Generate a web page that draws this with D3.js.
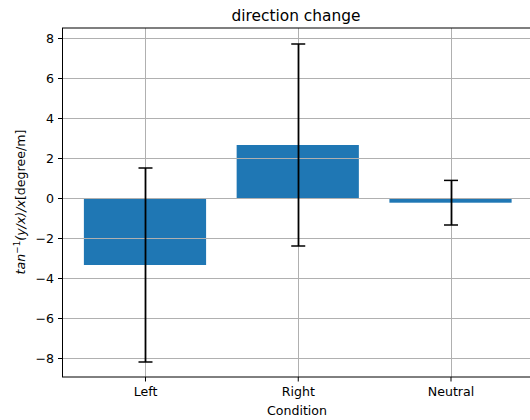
<!DOCTYPE html>
<html>
<head>
<meta charset="utf-8">
<script src="https://cdn.jsdelivr.net/npm/d3@7"></script>
<style>
  body { margin: 0; background: #fff; }
  svg { display: block; font-family: "DejaVu Sans", sans-serif; }
</style>
</head>
<body>
<div id="chart"></div>
<script>
// data
const conditions = ["Left", "Right", "Neutral"];
const means = [-3.35, 2.65, -0.235];
const errors = [4.85, 5.05, 1.115];
const yTicks = [-8, -6, -4, -2, 0, 2, 4, 6, 8];

const W = 530, H = 420;
const plotLeft = 62.5, plotTop = 28, plotBottom = 377;
const plotRight = 533;
const fs = "12.6px";

const svg = d3.select("#chart").append("svg")
    .attr("width", W)
    .attr("height", H);

const xScale = d3.scaleLinear()
    .domain([-0.54, 2.54])
    .range([plotLeft, plotRight]);

const yScale = d3.scaleLinear()
    .domain([-8.95, 8.5])
    .range([plotBottom, plotTop]);

const barW = xScale(0.4) - xScale(-0.4);

// bars
svg.append("g").selectAll("rect")
    .data(means)
    .enter()
    .append("rect")
    .attr("x", (d, i) => xScale(i) - barW / 2)
    .attr("y", d => yScale(Math.max(0, d)))
    .attr("width", barW)
    .attr("height", d => Math.abs(yScale(d) - yScale(0)))
    .style("fill", "#1f77b4");

// grid (above bars, below error bars like matplotlib)
const grid = svg.append("g");
grid.selectAll(".hg")
    .data(yTicks)
    .enter()
    .append("line")
    .attr("x1", plotLeft).attr("x2", plotRight)
    .attr("y1", d => Math.round(yScale(d)) + 0.5)
    .attr("y2", d => Math.round(yScale(d)) + 0.5)
    .style("stroke", "#b0b0b0")
    .style("stroke-width", 1);
grid.selectAll(".vg")
    .data(conditions)
    .enter()
    .append("line")
    .attr("x1", (d, i) => Math.round(xScale(i)) + 0.5)
    .attr("x2", (d, i) => Math.round(xScale(i)) + 0.5)
    .attr("y1", plotTop).attr("y2", plotBottom)
    .style("stroke", "#b0b0b0")
    .style("stroke-width", 1);

// error bars
const eb = svg.append("g").selectAll("g")
    .data(means)
    .enter()
    .append("g");
eb.append("line")
    .attr("x1", (d, i) => Math.round(xScale(i)) + 0.5)
    .attr("x2", (d, i) => Math.round(xScale(i)) + 0.5)
    .attr("y1", (d, i) => yScale(d + errors[i]))
    .attr("y2", (d, i) => yScale(d - errors[i]))
    .style("stroke", "#000")
    .style("stroke-width", 1.8);
[1, -1].forEach(s => {
    eb.append("line")
        .attr("x1", (d, i) => xScale(i) - 6.5)
        .attr("x2", (d, i) => xScale(i) + 7.5)
        .attr("y1", (d, i) => yScale(d + s * errors[i]))
        .attr("y2", (d, i) => yScale(d + s * errors[i]))
        .style("stroke", "#000")
        .style("stroke-width", 1.5);
});

// axes
const yAxis = d3.axisLeft(yScale)
    .tickValues(yTicks)
    .tickSize(4.5)
    .tickPadding(4)
    .tickFormat(d => d < 0 ? "\u2212" + Math.abs(d) : d);
svg.append("g")
    .attr("transform", `translate(${plotLeft}, 0)`)
    .call(yAxis)
    .call(g => g.select(".domain").remove())
    .call(g => g.selectAll("text").style("font-size", fs).style("fill", "#000").style("font-family", "DejaVu Sans"))
    .call(g => g.selectAll("line").style("stroke", "#000"));

const xAxis = d3.axisBottom(xScale)
    .tickValues([0, 1, 2])
    .tickSize(4.5)
    .tickPadding(6)
    .tickFormat(i => conditions[i]);
svg.append("g")
    .attr("transform", `translate(0, ${plotBottom})`)
    .call(xAxis)
    .call(g => g.select(".domain").remove())
    .call(g => g.selectAll("text").style("font-size", fs).style("fill", "#000").style("font-family", "DejaVu Sans"))
    .call(g => g.selectAll("line").style("stroke", "#000"));

// spines
svg.append("rect")
    .attr("x", plotLeft).attr("y", plotTop)
    .attr("width", plotRight - plotLeft).attr("height", plotBottom - plotTop)
    .style("fill", "none")
    .style("stroke", "#000")
    .style("stroke-width", 1);

// title and labels
svg.append("text")
    .attr("x", 296).attr("y", 21)
    .attr("text-anchor", "middle")
    .style("font-size", "15.4px")
    .text("direction change");

svg.append("text")
    .attr("x", 297).attr("y", 415)
    .attr("text-anchor", "middle")
    .style("font-size", fs)
    .text("Condition");

const yl = svg.append("text")
    .attr("transform", `translate(25, 202) rotate(-90)`)
    .attr("text-anchor", "middle")
    .style("font-size", fs);
yl.append("tspan").style("font-style", "italic").text("tan");
yl.append("tspan").attr("dy", -5).style("font-size", "8.8px").text("\u22121");
yl.append("tspan").attr("dy", 5).style("font-style", "italic").text("(y/x)/x");
yl.append("tspan").text("[degree/m]");
</script>
</body>
</html>
